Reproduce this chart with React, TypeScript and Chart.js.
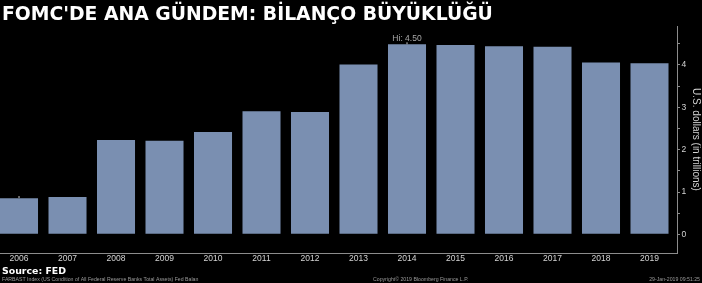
import React, { useEffect, useRef } from "react";
import { Chart, registerables } from "chart.js";

Chart.register(...registerables);

const titleText = "FOMC'DE ANA GÜNDEM: BİLANÇO BÜYÜKLÜĞÜ";
const sourceText = "Source: FED";
const footLeft = "FARBAST Index (US Condition of All Federal Reserve Banks Total Assets) Fed Balan";
const footMid = "Copyright© 2019 Bloomberg Finance L.P.";
const footRight = "29-Jan-2019 09:51:25";
const yTitle = "U.S. dollars (in trillions)";

const years = [2006, 2007, 2008, 2009, 2010, 2011, 2012, 2013, 2014, 2015, 2016, 2017, 2018, 2019];
const assets = [0.85, 0.88, 2.23, 2.21, 2.42, 2.91, 2.89, 4.01, 4.49, 4.47, 4.44, 4.43, 4.06, 4.04];
const yTickValues = [0, 0.5, 1, 1.5, 2, 2.5, 3, 3.5, 4, 4.5];
const hiYear = 2014;
const hiValue = 4.5;
const hiLabel = "Hi: 4.50";
const loYear = 2006;
const loValue = 0.87;

const BAR = "#7a8fb1";
const AXIS = "#8c8c8c";
const TXT = "#d4d4d4";

const textPlugin = {
  id: "texts",
  afterDraw(chart: any) {
    const ctx = chart.ctx;
    const xs = chart.scales.x;
    const ys = chart.scales.y;
    ctx.save();
    // Hi label
    const hx = xs.getPixelForValue(hiYear);
    const hy = ys.getPixelForValue(hiValue);
    ctx.fillStyle = "#a8a8a8";
    ctx.font = "8.5px 'Liberation Sans', Arial, sans-serif";
    ctx.textAlign = "center";
    ctx.textBaseline = "alphabetic";
    ctx.fillText(hiLabel, hx, hy - 3);
    ctx.fillStyle = "#c8c8c8";
    ctx.fillRect(hx - 0.5, hy - 1.5, 1, 2);
    const lx = xs.getPixelForValue(loYear);
    const ly = ys.getPixelForValue(loValue);
    ctx.fillRect(lx - 0.5, ly - 1.5, 1, 2);

    // title
    ctx.textAlign = "left";
    ctx.fillStyle = "#ffffff";
    ctx.font = "bold 18.8px 'DejaVu Sans', Verdana, sans-serif";
    ctx.fillText(titleText, 2, 19.5);
    // source
    ctx.font = "bold 9.4px 'DejaVu Sans', Verdana, sans-serif";
    ctx.fillText(sourceText, 2, 274);
    // footers
    ctx.fillStyle = "#9a9a9a";
    ctx.font = "5.2px 'Liberation Sans', Arial, sans-serif";
    ctx.fillText(footLeft, 2, 281);
    ctx.fillText(footMid, 373, 281);
    ctx.textAlign = "right";
    ctx.fillText(footRight, 700, 281);
    ctx.restore();
  },
};

export default function App() {
  const ref = useRef<HTMLCanvasElement | null>(null);

  useEffect(() => {
    document.body.style.margin = "0";
    document.body.style.background = "#000";
    if (!ref.current) return;
    const chart = new Chart(ref.current, {
      type: "bar",
      data: {
        datasets: [
          {
            data: years.map((y, i) => ({ x: y, y: assets[i] })),
            backgroundColor: BAR,
            borderWidth: 0,
            categoryPercentage: 1,
            barPercentage: 0.784,
          },
        ],
      },
      options: {
        animation: false,
        responsive: false,
        devicePixelRatio: 1,
        layout: { padding: { top: 26, left: 0, right: 0, bottom: 0 } },
        plugins: {
          legend: { display: false },
          tooltip: { enabled: false },
          title: { display: false },
        },
        scales: {
          x: {
            type: "linear",
            offset: false,
            min: 2005.608,
            max: 2019.567,
            afterBuildTicks: (s: any) => {
              s.ticks = years.map((v) => ({ value: v }));
            },
            afterFit: (s: any) => {
              s.height = 30;
            },
            grid: { display: false, drawTicks: false },
            border: { display: true, color: AXIS, width: 1 },
            ticks: {
              color: TXT,
              font: { family: "'Liberation Sans', Arial, sans-serif", size: 8.5 },
              padding: 1,
              maxRotation: 0,
              autoSkip: false,
              callback: (v: any) => String(v),
            },
          },
          y: {
            position: "right",
            min: -0.44,
            max: 4.92,
            afterBuildTicks: (s: any) => {
              s.ticks = yTickValues.map((v) => ({ value: v }));
            },
            afterFit: (s: any) => {
              s.width = 25;
            },
            grid: {
              drawOnChartArea: false,
              drawTicks: true,
              tickLength: 3,
              color: AXIS,
            },
            border: { display: true, color: AXIS, width: 1 },
            ticks: {
              color: TXT,
              font: { family: "'Liberation Sans', Arial, sans-serif", size: 8.5 },
              padding: 1.5,
              autoSkip: false,
              callback: (v: any) => (Number.isInteger(v) ? String(v) : ""),
            },
            title: {
              display: true,
              text: yTitle,
              color: TXT,
              font: { family: "'Liberation Sans', Arial, sans-serif", size: 10 },
              padding: { top: 0, bottom: 0 },
            },
          },
        },
      },
      plugins: [textPlugin],
    });
    return () => chart.destroy();
  }, []);

  return (
    <div style={{ width: 702, height: 283, background: "#000", position: "relative" }}>
      <canvas ref={ref} width={702} height={283} style={{ display: "block" }} />
    </div>
  );
}
